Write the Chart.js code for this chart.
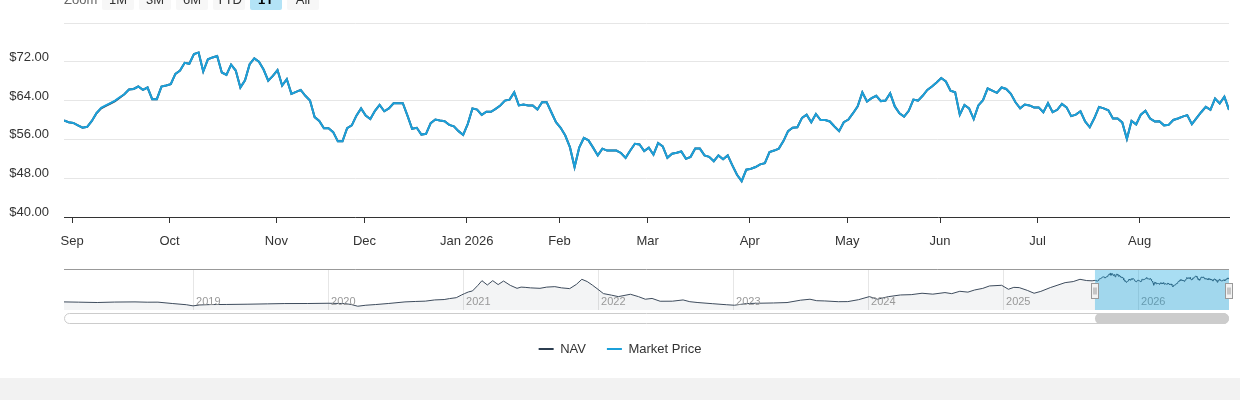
<!DOCTYPE html>
<html><head><meta charset="utf-8">
<script src="https://cdn.jsdelivr.net/npm/chart.js@4.4.1/dist/chart.umd.min.js"></script>
<style>
html,body{margin:0;padding:0;background:#f2f2f2;width:1240px;height:400px;overflow:hidden;font-family:"Liberation Sans",Arial,sans-serif;}
#wrap{position:relative;width:1240px;height:378px;background:#fff;overflow:hidden;}
#zoomBar{position:absolute;left:64px;top:-11px;height:21px;display:flex;align-items:center;font-size:13px;}
.zl{color:#666;width:33px;margin-right:5px;}
.btn{width:32px;height:21px;line-height:21px;text-align:center;background:#f7f7f7;color:#333;margin-right:5px;border-radius:2px;}
.btn.sel{background:#b3e3f6;font-weight:bold;color:#000;}
#mainBox{position:absolute;left:0;top:0;width:1240px;height:250px;}
#navBox{position:absolute;left:0;top:262px;width:1240px;height:116px;}
</style></head>
<body>
<div id="wrap">
  <div id="mainBox"><canvas id="mainCanvas"></canvas></div>
  <div id="navBox"><canvas id="navCanvas"></canvas></div>
  <div id="zoomBar"><span class="zl">Zoom</span><span class="btn">1M</span><span class="btn">3M</span><span class="btn">6M</span><span class="btn">YTD</span><span class="btn sel">1Y</span><span class="btn">All</span></div>
</div>
<script>
// ---- data ----
const monthLabels = ['Sep','Oct','Nov','Dec','Jan 2026','Feb','Mar','Apr','May','Jun','Jul','Aug'];
const monthStartIdx = [2,23,46,65,87,107,126,148,169,189,210,232];
const yTickValues = [40,48,56,64,72,80];

const marketValues = [
59.9,59.55,59.4,58.9,58.4,58.6,59.8,61.4,62.5,63.0,
63.5,64.0,64.7,65.3,66.3,66.4,66.9,66.2,66.7,64.3,
64.3,66.9,67.1,67.4,69.5,70.2,71.8,71.6,73.6,73.9,
70.0,72.5,72.9,73.2,69.8,69.3,71.4,70.2,66.7,68.2,
71.5,72.7,72.0,70.4,68.1,69.1,70.3,67.1,68.4,65.4,
65.8,66.2,65.0,64.0,60.6,59.8,58.3,58.3,57.5,55.6,
55.6,58.3,58.9,60.9,62.4,60.9,60.2,61.9,63.1,61.8,
62.4,63.45,63.45,63.45,60.9,58.2,58.4,57.0,57.15,59.35,
60.1,59.9,59.75,59.0,58.7,57.7,56.95,59.2,62.4,62.15,
61.05,61.7,61.7,62.3,63.0,64.0,64.2,65.7,63.0,63.2,
63.0,63.0,62.15,63.65,63.65,61.6,59.55,58.4,56.8,54.4,
50.3,54.3,56.3,55.8,54.3,52.7,54.1,53.7,53.7,53.7,
53.2,52.2,53.7,55.1,54.95,53.6,54.3,52.85,55.25,54.55,
52.2,53.05,53.25,53.5,52.0,52.4,54.1,54.1,52.7,52.4,
51.5,52.7,51.9,52.7,50.65,48.7,47.4,49.75,49.95,50.3,
50.85,51.1,53.4,53.7,54.1,55.65,57.7,58.4,58.5,60.45,
61.1,59.55,61.25,60.0,60.0,59.7,58.65,57.7,59.55,60.1,
61.4,62.8,65.7,63.8,64.5,65.0,63.9,64.0,65.5,62.8,
61.4,60.7,61.9,64.2,64.0,65.0,66.2,66.9,67.75,68.65,
67.95,66.05,65.7,61.1,63.1,62.4,60.2,63.0,64.1,66.5,
66.05,65.6,66.7,66.4,65.4,63.65,62.4,63.2,63.0,62.6,
62.6,61.6,63.45,61.6,62.1,63.3,62.6,60.8,61.1,61.8,
59.7,58.5,60.4,62.7,62.4,62.0,60.3,60.3,59.5,56.1,
59.8,59.1,61.1,61.9,60.3,59.7,59.75,58.9,59.0,60.0,
60.3,60.7,61.0,59.15,60.4,61.6,62.7,62.1,64.4,63.4,
64.8,62.1];

const navValues = [
59.9,59.55,59.4,58.9,58.4,58.6,59.8,61.4,62.4,62.9,
63.4,63.9,64.6,65.3,66.3,66.4,66.9,66.2,66.7,64.3,
64.3,66.9,67.1,67.4,69.5,70.2,71.8,71.6,73.6,73.9,
70.0,72.5,72.9,73.2,69.8,69.3,71.4,70.2,66.7,68.2,
71.5,72.7,72.0,70.4,68.1,69.1,70.3,67.1,68.4,65.4,
65.8,66.2,65.0,64.0,60.6,59.8,58.3,58.3,57.5,55.6,
55.6,58.3,58.9,60.9,62.4,60.9,60.2,61.9,63.1,61.8,
62.4,63.45,63.45,63.45,60.9,58.2,58.4,57.0,57.15,59.35,
60.1,59.9,59.75,59.0,58.7,57.7,56.95,59.2,62.4,62.15,
61.05,61.7,61.7,62.3,63.0,64.0,64.2,65.7,63.0,63.2,
63.0,63.0,62.15,63.65,63.65,61.6,59.55,58.4,56.8,54.4,
50.3,54.3,56.3,55.8,54.3,52.7,54.1,53.7,53.7,53.7,
53.2,52.2,53.7,55.1,54.95,53.6,54.3,52.85,55.25,54.55,
52.2,53.05,53.25,53.5,52.0,52.4,54.1,54.1,52.7,52.4,
51.5,52.7,51.9,52.7,50.65,48.7,47.4,49.75,49.95,50.3,
50.85,51.1,53.4,53.7,54.1,55.65,57.7,58.4,58.5,60.45,
61.1,59.55,61.25,60.0,60.0,59.7,58.65,57.7,59.55,60.1,
61.4,62.8,65.7,63.8,64.5,65.0,63.9,64.0,65.5,62.8,
61.4,60.7,61.9,64.2,64.0,65.0,66.2,66.9,67.75,68.65,
67.95,66.05,65.7,61.1,63.1,62.4,60.2,63.0,64.1,66.5,
66.05,65.6,66.7,66.4,65.4,63.65,62.4,63.2,63.0,62.6,
62.6,61.6,63.45,61.6,62.1,63.3,62.6,60.8,61.1,61.8,
59.7,58.5,60.4,62.7,62.4,62.0,60.3,60.3,59.5,56.1,
59.8,59.1,61.1,61.9,60.3,59.7,59.75,58.9,59.0,60.0,
60.3,60.7,61.0,59.15,60.4,61.6,62.7,62.1,64.4,63.4,
64.8,62.1];

// navigator history (decimal year, NAV) before the 1Y window
const navHistYears = [2018.04,2018.15,2018.29,2018.42,2018.57,2018.66,2018.74,2018.85,2018.95,2019.00,
2019.05,2019.13,2019.25,2019.40,2019.55,2019.68,2019.85,2020.00,2020.12,2020.17,
2020.22,2020.28,2020.35,2020.45,2020.57,2020.65,2020.72,2020.79,2020.86,2020.90,
2020.95,2020.99,2021.01,2021.04,2021.07,2021.11,2021.14,2021.18,2021.22,2021.26,
2021.30,2021.35,2021.40,2021.43,2021.46,2021.50,2021.57,2021.62,2021.68,2021.73,
2021.79,2021.84,2021.88,2021.92,2021.96,2022.00,2022.04,2022.10,2022.15,2022.24,
2022.30,2022.35,2022.40,2022.46,2022.55,2022.63,2022.68,2022.74,2022.85,2022.95,
2023.01,2023.10,2023.18,2023.30,2023.40,2023.50,2023.57,2023.62,2023.68,2023.78,
2023.85,2023.93,2024.01,2024.07,2024.15,2024.24,2024.32,2024.40,2024.48,2024.57,
2024.62,2024.68,2024.74,2024.79,2024.85,2024.90,2024.99,2025.04,2025.08,2025.12,
2025.18,2025.23,2025.28,2025.35,2025.40,2025.46,2025.52,2025.57,2025.62,2025.66];
const navHistValues = [17.1,16.6,15.9,16.8,17.1,16.5,16.6,13.8,11.5,9.2,
11.0,11.8,12.0,12.5,13.2,13.8,13.9,14.4,13.8,12.0,
8.5,10.5,11.8,14.0,17.1,18.0,18.6,21.0,21.8,23.7,
25.5,31.0,33.5,36.9,38.9,50.0,59.3,50.7,59.3,51.5,
58.6,50.0,44.1,46.5,46.0,45.0,44.1,46.5,47.4,45.0,
43.5,52.0,62.0,57.5,50.1,42.0,33.6,30.5,27.6,32.3,
27.5,22.4,24.0,18.4,18.5,21.0,17.5,15.8,13.5,11.5,
10.5,13.8,14.4,15.0,15.8,20.5,22.4,19.5,19.0,17.5,
17.7,21.5,27.6,22.4,27.5,30.9,31.5,34.3,32.5,35.6,
33.5,38.2,36.5,40.8,44.0,48.8,50.1,42.2,46.0,45.5,
40.0,34.3,38.0,45.5,50.0,55.4,57.5,62.0,59.5,59.0];
const navYearTicks = [2019,2020,2021,2022,2023,2024,2025,2026];
const navRange = [2018.044, 2026.674];
const windowRange = [2025.681, 2026.674];

// ---- styles ----
const MARKET_COLOR = '#1ba0da';
const NAV_COLOR = '#2c3e50';
const FONT = '"Liberation Sans", Arial, sans-serif';
Chart.defaults.font.family = FONT;

const mainChart = new Chart(document.getElementById('mainCanvas'), {
  type: 'line',
  data: { datasets: [
    { label: 'Market Price', data: marketValues.map((v,i)=>({x:i,y:v})), borderColor: MARKET_COLOR, borderWidth: 2, pointRadius: 0, tension: 0, order: 0 },
    { label: 'NAV', data: navValues.map((v,i)=>({x:i,y:v})), borderColor: NAV_COLOR, borderWidth: 2, pointRadius: 0, tension: 0, order: 1 }
  ]},
  options: {
    responsive: true, maintainAspectRatio: false, animation: false, events: [],
    layout: { padding: { top: 23, right: 11, left: 0, bottom: 0 } },
    plugins: { legend: { display: false }, tooltip: { enabled: false } },
    scales: {
      x: {
        type: 'linear', min: 0, max: marketValues.length - 1,
        afterBuildTicks: s => { s.ticks = monthStartIdx.map(i => ({ value: i - 0.25 })); },
        afterFit: s => { s.height = 33; },
        ticks: { autoSkip: false, maxRotation: 0, padding: 11, color: '#333', font: { size: 13 },
                 callback: (v, i) => monthLabels[i] },
        grid: { drawOnChartArea: false, drawTicks: true, tickLength: 6, color: '#333' },
        border: { display: true, color: '#333', width: 1 }
      },
      y: {
        min: 40, max: 80,
        afterBuildTicks: s => { s.ticks = yTickValues.map(v => ({ value: v })); },
        afterFit: s => { s.width = 64; },
        ticks: { padding: 15, labelOffset: -4.5, color: '#333', font: { size: 13 },
                 callback: v => v >= 80 ? '' : '$' + v.toFixed(2) },
        grid: { color: '#e6e6e6', drawTicks: false },
        border: { display: false }
      }
    }
  }
});

const navData = navHistYears.map((t,i)=>({x:t, y:navHistValues[i]}))
  .concat(navValues.map((v,i)=>({x: windowRange[0] + i*(windowRange[1]-windowRange[0])/(navValues.length-1), y: v})));

const navOverlay = {
  id: 'navOverlay',
  afterDatasetsDraw(chart) {
    const { ctx, chartArea: a, scales: { x } } = chart;
    const x0 = x.getPixelForValue(windowRange[0]);
    const x1 = x.getPixelForValue(windowRange[1]);
    ctx.save();
    // year labels inside the navigator
    ctx.font = '11px ' + FONT;
    ctx.fillStyle = '#999';
    ctx.textAlign = 'left';
    ctx.textBaseline = 'middle';
    navYearTicks.forEach(yr => {
      ctx.fillText(String(yr), x.getPixelForValue(yr) + 3, a.bottom - 8);
    });
    // selected window mask
    ctx.fillStyle = 'rgba(9,161,221,0.35)';
    ctx.fillRect(x0, a.top, x1 - x0, a.bottom - a.top);
    // outline
    ctx.strokeStyle = '#999'; ctx.lineWidth = 1;
    ctx.beginPath(); ctx.moveTo(a.left, Math.round(a.top) - 0.5); ctx.lineTo(a.right, Math.round(a.top) - 0.5); ctx.stroke();
    // handles
    const mid = (a.top + a.bottom) / 2;
    [x0, x1].forEach(xh => {
      const hx = Math.round(xh) - 3.5, hy = Math.round(mid - 7.5) + 0.5;
      ctx.fillStyle = '#f2f2f2'; ctx.fillRect(hx, hy, 7, 15);
      ctx.strokeStyle = '#999'; ctx.strokeRect(hx, hy, 7, 15);
      ctx.beginPath();
      ctx.moveTo(hx + 2.5, hy + 4); ctx.lineTo(hx + 2.5, hy + 11);
      ctx.moveTo(hx + 4.5, hy + 4); ctx.lineTo(hx + 4.5, hy + 11);
      ctx.stroke();
    });
    // scrollbar
    ctx.beginPath(); ctx.roundRect(a.left + 0.5, a.bottom + 3.5, a.right - a.left - 1, 10, 5);
    ctx.fillStyle = '#fff'; ctx.fill(); ctx.strokeStyle = '#ccc'; ctx.stroke();
    ctx.beginPath(); ctx.roundRect(x0, a.bottom + 3, x1 - x0, 11, 5.5);
    ctx.fillStyle = '#cccccc'; ctx.fill();
    ctx.restore();
  }
};

const navChart = new Chart(document.getElementById('navCanvas'), {
  type: 'line',
  data: { datasets: [
    { label: 'NAV', data: navData, borderColor: '#3d4b5c', borderWidth: 1, pointRadius: 0, tension: 0,
      fill: 'start', backgroundColor: 'rgba(44,62,80,0.06)' }
  ]},
  options: {
    responsive: true, maintainAspectRatio: false, animation: false, events: [],
    layout: { padding: { top: 8, right: 0, left: 0, bottom: 12.5 } },
    plugins: {
      tooltip: { enabled: false },
      legend: {
        display: true, position: 'bottom', align: 'center',
        labels: {
          usePointStyle: true, pointStyleWidth: 15, padding: 21, color: '#333', font: { size: 13 },
          generateLabels: () => [
            { text: 'NAV', strokeStyle: NAV_COLOR, fillStyle: NAV_COLOR, lineWidth: 2, pointStyle: 'line', hidden: false, fontColor: '#333' },
            { text: 'Market Price', strokeStyle: MARKET_COLOR, fillStyle: MARKET_COLOR, lineWidth: 2, pointStyle: 'line', hidden: false, fontColor: '#333' }
          ]
        }
      }
    },
    scales: {
      x: {
        type: 'linear', min: navRange[0], max: navRange[1],
        afterBuildTicks: s => { s.ticks = navYearTicks.map(v => ({ value: v })); },
        afterFit: s => { s.height = 11.5; },
        ticks: { display: false },
        grid: { color: '#e6e6e6', drawTicks: false, drawOnChartArea: true },
        border: { display: false }
      },
      y: {
        min: 1, max: 80.5, display: true,
        afterFit: s => { s.width = 64; },
        ticks: { display: false }, grid: { display: false }, border: { display: false }
      },
      y2: {
        position: 'right', display: true,
        afterFit: s => { s.width = 11; },
        ticks: { display: false }, grid: { display: false }, border: { display: false }
      }
    }
  },
  plugins: [navOverlay]
});
</script>
</body></html>
